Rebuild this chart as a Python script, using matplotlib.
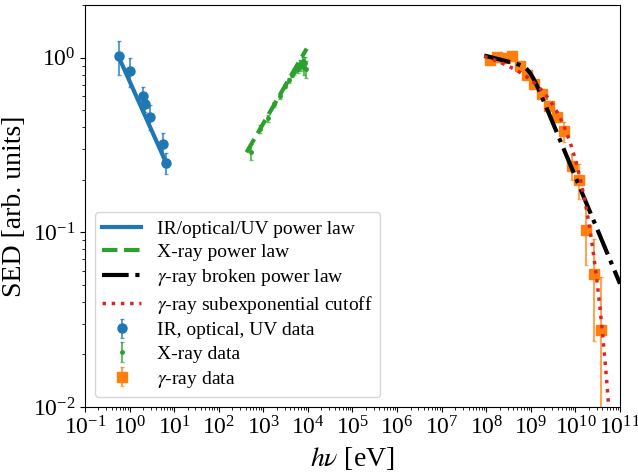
import numpy as np
import matplotlib
matplotlib.use("Agg")
import matplotlib.pyplot as plt

plt.rcParams['font.family'] = ['Liberation Serif', 'DejaVu Serif']
plt.rcParams['mathtext.fontset'] = 'stix'

# ---- measured SED points (energy in eV, SED in arbitrary units) ----
uvo_energy = [0.58, 1.02, 1.97, 2.21, 2.82, 5.70, 6.55]
uvo_sed = [1.02, 0.84, 0.60, 0.54, 0.46, 0.32, 0.25]
uvo_err = [0.23, 0.16, 0.08, 0.05, 0.075, 0.05, 0.035]

xray_energy = [520, 850, 1250, 1750, 2350, 3000, 3700, 4400, 5000, 5600,
               6100, 6600, 7100, 7600, 8100, 8600, 9100]
xray_sed = [0.29, 0.39, 0.45, 0.54, 0.60, 0.69, 0.74, 0.80, 0.83, 0.88,
            0.86, 0.92, 0.90, 0.95, 0.87, 0.93, 0.86]
xray_err = [0.03, 0.02, 0.02, 0.02, 0.02, 0.02, 0.02, 0.03, 0.03, 0.04,
            0.04, 0.05, 0.06, 0.06, 0.07, 0.08, 0.10]

gamma_energy = [1.20e8, 1.78e8, 2.60e8, 3.80e8, 5.60e8, 8.2e8, 1.20e9, 1.77e9,
                2.60e9, 3.80e9, 5.60e9, 8.2e9, 1.20e10, 1.77e10, 2.60e10, 3.80e10]
gamma_sed = [0.965, 1.01, 1.00, 1.02, 0.90, 0.80, 0.71, 0.615,
             0.53, 0.46, 0.38, 0.24, 0.20, 0.103, 0.058, 0.0277]
gamma_err = [0.03, 0.03, 0.03, 0.03, 0.03, 0.03, 0.03, 0.03,
             0.03, 0.03, 0.05, 0.04, 0.045, 0.038, 0.034, 0.0275]

# ---- fitted model parameters ----
uvo_norm, uvo_pivot, uvo_index = 1.0, 0.58, -0.57
uvo_range = (0.55, 7.0)

xray_norm, xray_pivot, xray_index = 0.42, 1.0e3, 0.44
xray_range = (420.0, 9400.0)

bpl_norm, bpl_break, bpl_index1, bpl_index2, bpl_smooth = 0.885, 9.3e8, -0.064, -0.611, 0.1
gamma_range = (9.0e7, 1.0e11)

sec_norm, sec_pivot, sec_index, sec_cutoff, sec_b = 1.035, 1.0e8, -0.07, 9.3e9, 0.8


def power_law(e, norm, pivot, index):
    return norm * (e / pivot) ** index


def broken_power_law(e, norm, e_break, k1, k2, s):
    r = e / e_break
    return norm * r ** k1 * (1.0 + r ** ((k1 - k2) / s)) ** (-s)


def subexp_cutoff(e, norm, pivot, index, e_cut, b):
    return norm * (e / pivot) ** index * np.exp(-(e / e_cut) ** b)


fig = plt.figure(figsize=(6.38, 4.73), dpi=100)
ax = fig.add_axes([0.1332, 0.1395, 0.8386, 0.8499])


def draw_data(x, y, err, color, marker, ms, label):
    cont = ax.errorbar(x, y, yerr=err, fmt=marker, color=color, ms=ms,
                       elinewidth=1.5, capsize=1.5, label=label, zorder=2)
    for c in cont[1]:
        c.set_alpha(0.7)
    for c in cont[2]:
        c.set_alpha(0.7)
    return cont


draw_data(uvo_energy, uvo_sed, uvo_err, 'C0', 'o', 6.5, 'IR, optical, UV data')
draw_data(xray_energy, xray_sed, xray_err, 'C2', 'o', 2.5, 'X-ray data')
draw_data(gamma_energy, gamma_sed, gamma_err, 'C1', 's', 6.5, r'$\gamma$-ray data')

# model curves
e_uvo = np.logspace(np.log10(uvo_range[0]), np.log10(uvo_range[1]), 50)
ax.plot(e_uvo, power_law(e_uvo, uvo_norm, uvo_pivot, uvo_index), color='C0', lw=3,
        label='IR/optical/UV power law', zorder=3)

e_x = np.logspace(np.log10(xray_range[0]), np.log10(xray_range[1]), 50)
ax.plot(e_x, power_law(e_x, xray_norm, xray_pivot, xray_index), color='C2', lw=3,
        ls='--', label='X-ray power law', zorder=3)

e_g = np.logspace(np.log10(gamma_range[0]), np.log10(gamma_range[1]), 400)
ax.plot(e_g, broken_power_law(e_g, bpl_norm, bpl_break, bpl_index1, bpl_index2, bpl_smooth),
        color='k', lw=3, ls='-.', label=r'$\gamma$-ray broken power law', zorder=3)
ax.plot(e_g, subexp_cutoff(e_g, sec_norm, sec_pivot, sec_index, sec_cutoff, sec_b),
        color='C3', lw=2.5, ls=':', label=r'$\gamma$-ray subexponential cutoff', zorder=4)

ax.set_xscale('log')
ax.set_yscale('log')
ax.set_xlim(1e-1, 1e11)
ax.set_ylim(1e-2, 2.0)
ax.xaxis.set_major_locator(matplotlib.ticker.LogLocator(base=10, numticks=20))
ax.xaxis.set_minor_locator(matplotlib.ticker.LogLocator(base=10, subs=np.arange(2, 10), numticks=20))

ax.tick_params(axis='both', which='major', labelsize=17)
ax.set_xlabel(r'$h\nu$ [eV]', fontsize=20)
ax.set_ylabel('SED [arb. units]', fontsize=20)

ax.legend(loc='lower left', fontsize=14, labelspacing=0.3)

fig.savefig('out.png', dpi=100)
